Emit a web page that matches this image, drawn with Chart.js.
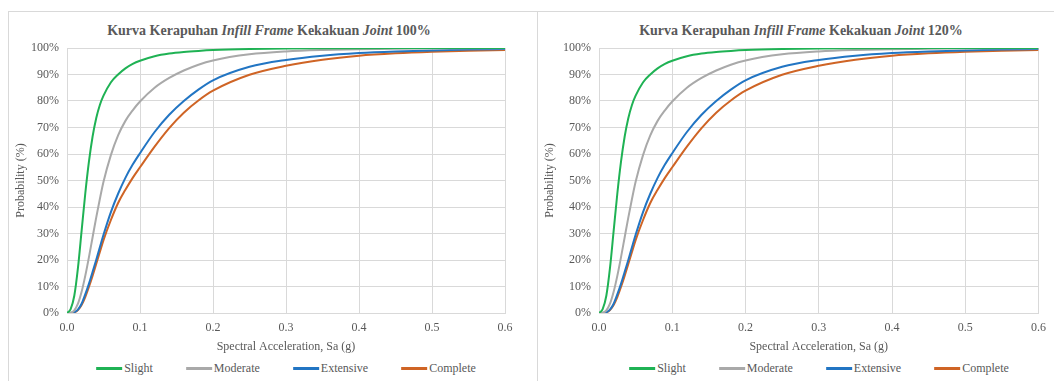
<!DOCTYPE html>
<html>
<head>
<meta charset="utf-8">
<script src="https://cdn.jsdelivr.net/npm/chart.js@4/dist/chart.umd.min.js"></script>
<style>
  html, body { margin: 0; padding: 0; background: #fff; }
  body { width: 1054px; height: 381px; position: relative; overflow: hidden;
         font-family: "Liberation Serif", "Times New Roman", serif; color: #595959; }
  .frame-line { position: absolute; background: #d9d9d9; }
  .title { position: absolute; top: 23px; font-size: 14px; font-weight: bold; color: #595959;
           white-space: nowrap; transform: translateX(-50%); }
  .legend { position: absolute; top: 361px; display: flex; gap: 33px; transform: translateX(-50%);
            font-size: 12px; white-space: nowrap; }
  .legend .item { display: flex; align-items: center; }
  .legend .swatch { width: 26px; height: 3px; margin-right: 2px; }
  canvas { position: absolute; }
</style>
</head>
<body>
<div class="frame-line" style="left:8px;top:11px;width:1046px;height:1px;"></div>
<div class="frame-line" style="left:8px;top:11px;width:1px;height:370px;"></div>
<div class="frame-line" style="left:537px;top:11px;width:1px;height:370px;"></div>

<div class="title" style="left:269px;">Kurva Kerapuhan <i>Infill Frame</i> Kekakuan <i>Joint</i> 100%</div>
<div class="title" style="left:801px;">Kurva Kerapuhan <i>Infill Frame</i> Kekakuan <i>Joint</i> 120%</div>

<canvas id="c100" width="529" height="346" style="left:8px;top:11px;width:529px;height:346px;"></canvas>
<canvas id="c120" width="517" height="346" style="left:537px;top:11px;width:517px;height:346px;"></canvas>

<div class="legend" id="lg100" style="left:286px;"></div>
<div class="legend" id="lg120" style="left:819px;"></div>

<script>
// Spectral acceleration Sa (g) sample points
const sa = [0, 0.005, 0.01, 0.015, 0.02, 0.025, 0.03, 0.035, 0.04, 0.045, 0.05, 0.06, 0.07, 0.08, 0.09,
            0.1, 0.12, 0.14, 0.16, 0.18, 0.2, 0.25, 0.3, 0.35, 0.4, 0.45, 0.5, 0.55, 0.6];

// Probability of exceedance (%) — joint stiffness 100%
const slight100    = [0, 1.5, 6.5, 17, 31, 45, 57, 66.5, 73.5, 78.5, 82, 87, 90, 92.3, 94,
                      95.2, 96.9, 97.9, 98.5, 98.9, 99.2, 99.6, 99.8, 99.88, 99.93, 99.96, 99.98, 99.99, 99.99];
const moderate100  = [0, 0.1, 1, 3.5, 8, 14, 21, 28.5, 36, 43, 49.5, 59.5, 67, 72.5, 76.5,
                      79.8, 85, 88.7, 91.5, 93.7, 95.3, 97.6, 98.7, 99.25, 99.55, 99.72, 99.82, 99.9, 99.93];
const extensive100 = [0, 0, 0.3, 1.3, 3.5, 7, 11, 15.5, 20, 24.8, 29.5, 38, 45, 51, 56,
                      60.3, 68.3, 74.8, 80, 84.3, 87.8, 92.9, 95.5, 97.1, 98.1, 98.7, 99.1, 99.4, 99.6];
const complete100  = [0, 0, 0.2, 1.1, 3, 6, 9.8, 14, 18.5, 23, 27.5, 35, 41.5, 46.5, 51,
                      55, 62.8, 69.8, 75.6, 80.2, 83.9, 89.9, 93.3, 95.6, 97.1, 98, 98.6, 99, 99.25];

// Probability of exceedance (%) — joint stiffness 120%
const slight120    = [0, 1.5, 6.5, 17, 31, 45, 57, 66.5, 73.5, 78.5, 82, 87, 90, 92.3, 94,
                      95.2, 96.9, 97.9, 98.5, 98.9, 99.2, 99.6, 99.8, 99.88, 99.93, 99.96, 99.98, 99.99, 99.99];
const moderate120  = [0, 0.1, 1, 3.5, 8, 14, 21, 28.5, 36, 43, 49.5, 59.5, 67, 72.5, 76.5,
                      79.8, 85, 88.7, 91.5, 93.7, 95.3, 97.6, 98.7, 99.25, 99.55, 99.72, 99.82, 99.9, 99.93];
const extensive120 = [0, 0, 0.3, 1.3, 3.5, 7, 11, 15.5, 20, 24.8, 29.5, 38, 45, 51, 56,
                      60.3, 68.3, 74.8, 80, 84.3, 87.8, 92.9, 95.5, 97.1, 98.1, 98.7, 99.1, 99.4, 99.6];
const complete120  = [0, 0, 0.2, 1.1, 3, 6, 9.8, 14, 18.5, 23, 27.5, 35, 41.5, 46.5, 51,
                      55, 62.8, 69.8, 75.6, 80.2, 83.9, 89.9, 93.3, 95.6, 97.1, 98, 98.6, 99, 99.25];

const stateNames  = ['Slight', 'Moderate', 'Extensive', 'Complete'];
const stateColors = ['#1fb254', '#a9a9a9', '#2275c3', '#cf6425'];

const xTicks = [0, 0.1, 0.2, 0.3, 0.4, 0.5, 0.6];
const yTicks = [0, 10, 20, 30, 40, 50, 60, 70, 80, 90, 100];

const FONT = '"Liberation Serif", "Times New Roman", serif';
const TEXT = '#595959';
const GRID = '#d9d9d9';

function makeChart(canvasId, legendId, series, yAxisWidth, padRight) {
  const datasets = series.map((vals, i) => ({
    label: stateNames[i],
    data: sa.map((x, k) => ({ x: x, y: vals[k] })),
    borderColor: stateColors[i],
    backgroundColor: stateColors[i],
    borderWidth: 2,
    pointRadius: 0,
    fill: false,
    cubicInterpolationMode: 'monotone',
    order: i
  }));

  new Chart(document.getElementById(canvasId), {
    type: 'line',
    data: { datasets },
    options: {
      responsive: false,
      animation: false,
      layout: { padding: { top: 37, left: 0, right: padRight, bottom: 0 } },
      plugins: { legend: { display: false }, title: { display: false }, tooltip: { enabled: false } },
      scales: {
        x: {
          type: 'linear', min: 0, max: 0.6,
          afterBuildTicks: s => { s.ticks = xTicks.map(v => ({ value: v })); },
          afterFit: s => { s.height = 44; },
          grid: { color: GRID, lineWidth: 1, drawTicks: false },
          border: { color: GRID },
          ticks: { padding: 8, color: TEXT, font: { family: FONT, size: 12 },
                   callback: v => Number(v).toFixed(1), maxRotation: 0 },
          title: { display: true, text: 'Spectral Acceleration, Sa (g)', color: TEXT,
                   font: { family: FONT, size: 12 }, padding: { top: 0, bottom: 3 } }
        },
        y: {
          type: 'linear', min: 0, max: 100,
          afterBuildTicks: s => { s.ticks = yTicks.map(v => ({ value: v })); },
          afterFit: s => { s.width = yAxisWidth; },
          grid: { color: GRID, lineWidth: 1, drawTicks: false },
          border: { color: GRID },
          ticks: { padding: 8, color: TEXT, font: { family: FONT, size: 12 },
                   callback: v => v + '%' },
          title: { display: true, text: 'Probability (%)', color: TEXT,
                   font: { family: FONT, size: 12 }, padding: { top: 6, bottom: 0 } }
        }
      }
    }
  });

  const lg = document.getElementById(legendId);
  stateNames.forEach((name, i) => {
    const item = document.createElement('div');
    item.className = 'item';
    const sw = document.createElement('span');
    sw.className = 'swatch';
    sw.style.background = stateColors[i];
    const tx = document.createElement('span');
    tx.textContent = name;
    item.appendChild(sw);
    item.appendChild(tx);
    lg.appendChild(item);
  });
}

makeChart('c100', 'lg100', [slight100, moderate100, extensive100, complete100], 59, 32);
makeChart('c120', 'lg120', [slight120, moderate120, extensive120, complete120], 62, 15);
</script>
</body>
</html>
